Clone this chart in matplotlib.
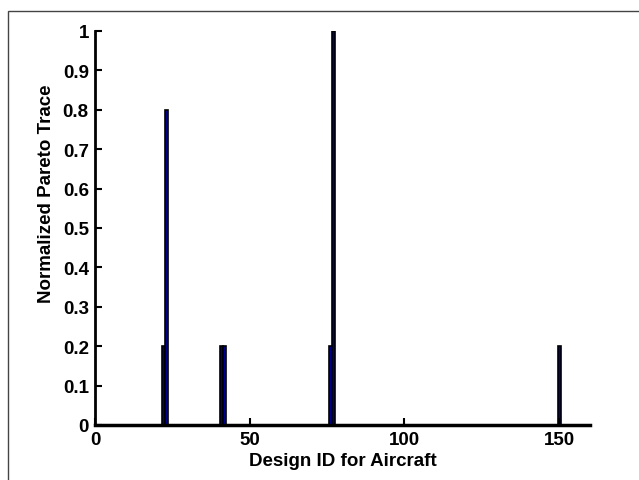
import numpy as np
import matplotlib.pyplot as plt
from matplotlib.patches import Rectangle

plt.rcParams['font.family'] = ['Liberation Sans', 'DejaVu Sans']
plt.rcParams['font.weight'] = 'bold'

# Pareto trace per design id (all other designs are zero)
design_ids = [22, 23, 41, 42, 76, 77, 150]
trace = [0.2, 0.8, 0.2, 0.2, 0.2, 1.0, 0.2]
x_ticks = [0, 50, 100, 150]
y_ticks = np.round(np.arange(0, 1.01, 0.1), 1)

W, H = 639, 481
fig = plt.figure(figsize=(W / 100, H / 100), dpi=100)

# outer frame of the original figure window (cut off on right and bottom)
fig.add_artist(Rectangle((8 / W, -0.1), 1.2, 1.1 - 12 / H, transform=fig.transFigure,
                         fill=False, edgecolor='#444444', linewidth=1.0))

ax = fig.add_axes([95 / W, 55 / H, 495 / W, 394 / H])
ax.bar(design_ids, trace, width=1.0, color='#00008F', edgecolor='black', linewidth=1.2)

ax.set_xlim(0, 160)
ax.set_ylim(0, 1)
ax.set_xticks(x_ticks)
ax.set_yticks(y_ticks)
ax.set_yticklabels(['0'] + [f'{v:g}' for v in y_ticks[1:]])
ax.spines['top'].set_visible(False)
ax.spines['right'].set_visible(False)
ax.spines['left'].set_linewidth(2)
ax.spines['bottom'].set_linewidth(2.5)
ax.tick_params(direction='in', length=5, width=1.5, labelsize=13.5)
ax.tick_params(axis='y', pad=4.5)
ax.tick_params(axis='x', pad=4)
for lab in ax.get_xticklabels() + ax.get_yticklabels():
    lab.set_fontweight('bold')

ax.set_xlabel('Design ID for Aircraft', fontsize=13.5, fontweight='bold', labelpad=3)
ax.set_ylabel('Normalized Pareto Trace', fontsize=13.5, fontweight='bold', labelpad=6)
ax.yaxis.set_label_coords(-0.08, 0.59)

fig.savefig('out.png', dpi=100)
